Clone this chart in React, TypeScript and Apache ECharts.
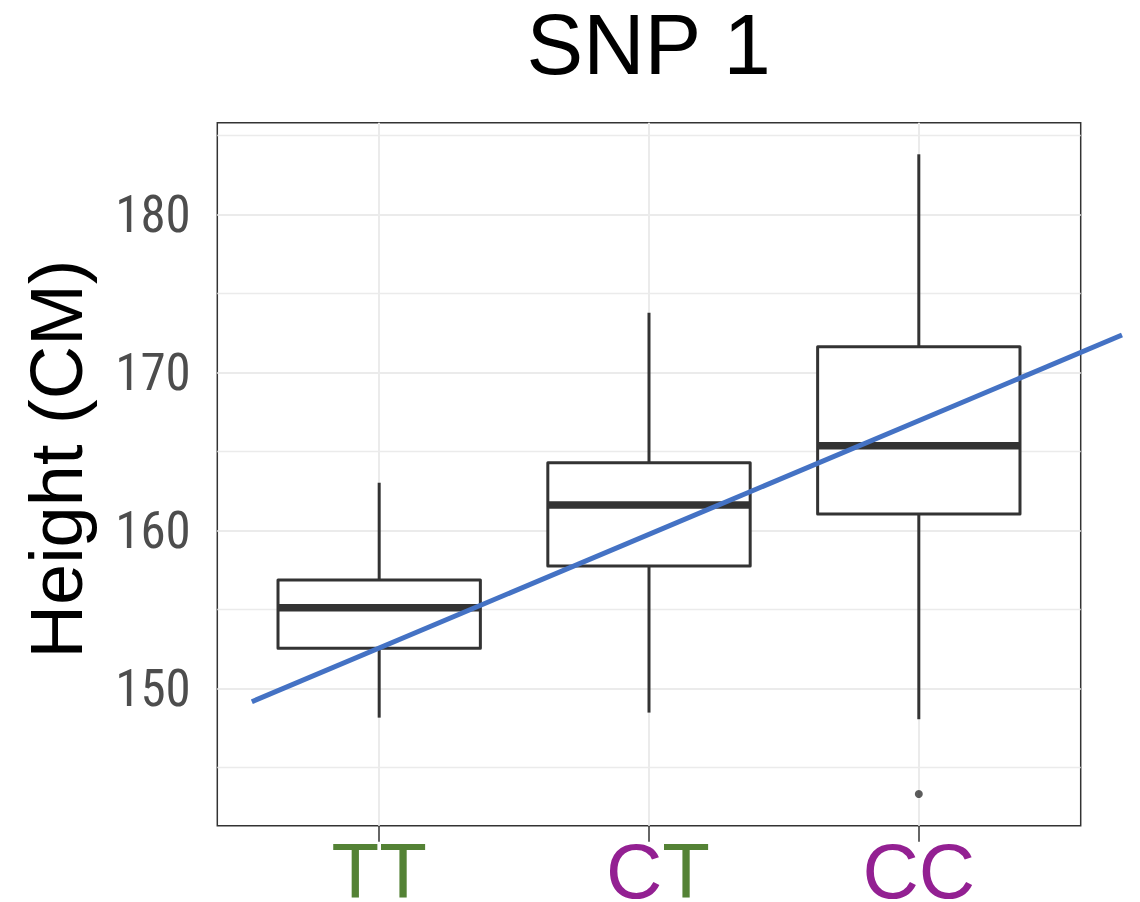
import React, { useEffect, useRef } from "react";
import * as echarts from "echarts";

const categories = ["TT", "CT", "CC"];
const lowerWhisker = [148.14, 148.46, 148.04];
const q1 = [152.53, 157.74, 161.03];
const median = [155.1, 161.6, 165.35];
const q3 = [156.85, 164.28, 171.62];
const upperWhisker = [163.01, 173.77, 183.8];
const outliers = [[2, 143.31]];
const trendX = [-0.472, 2.753];
const trendY = [149.15, 172.36];
const yTickLabels = [150, 160, 170, 180];
const majorGridY = [150, 160, 170, 180];
const minorGridY = [145, 155, 165, 175, 185];

const GREEN = "#548235";
const PURPLE = "#932092";
const NARROW = "'Roboto Condensed', 'Liberation Sans Narrow', 'Liberation Sans', sans-serif";
const SANS = "'Liberation Sans', Arial, Helvetica, sans-serif";

export default function App() {
  const ref = useRef<HTMLDivElement>(null);
  useEffect(() => {
    document.body.style.margin = "0";
    const chart = echarts.init(ref.current!, undefined, { renderer: "svg" });
    const boxData = categories.map((_, i) => [i, lowerWhisker[i], q1[i], median[i], q3[i], upperWhisker[i]]);
    const labelRich: Record<string, string> = {
      TT: "{g|TT}",
      CT: "{pc|C}{g|T}",
      CC: "{p|CC}",
    };
    const option: any = {
      animation: false,
      backgroundColor: "#ffffff",
      grid: {
        left: 217.3,
        right: 59.3,
        top: 122.7,
        bottom: 76.3,
        outerBoundsMode: "none",
        containLabel: false,
        show: true,
        borderColor: "#333333",
        borderWidth: 1.5,
        backgroundColor: "#ffffff",
      },
      xAxis: {
        type: "value",
        min: -0.6,
        max: 2.6,
        axisLine: { show: false },
        splitLine: { show: false },
        axisTick: {
          show: true,
          length: 16,
          customValues: [0, 1, 2],
          lineStyle: { color: "#333333", width: 1.5 },
        },
        axisLabel: {
          customValues: [0, 1, 2],
          margin: 15,
          formatter: (v: number) => labelRich[categories[Math.round(v)]] || "",
          rich: {
            g: { color: GREEN, fontSize: 78, lineHeight: 60, fontFamily: SANS },
            p: { color: PURPLE, fontSize: 78, lineHeight: 60, fontFamily: SANS },
            pc: { color: PURPLE, fontSize: 78, lineHeight: 60, fontFamily: SANS, padding: [0, 0, 0, 18] },
          },
        },
      },
      yAxis: {
        type: "value",
        min: 141.3,
        max: 185.8,
        axisLine: { show: false },
        splitLine: { show: false },
        axisTick: {
          show: true,
          length: 14,
          customValues: yTickLabels,
          lineStyle: { color: "#333333", width: 1.5 },
        },
        axisLabel: {
          customValues: yTickLabels,
          margin: 26.5,
          color: "#4d4d4d",
          fontSize: 51,
          fontFamily: NARROW,
        },
      },
      graphic: [
        {
          type: "text",
          x: 648.6,
          y: 44.5,
          style: {
            text: "SNP 1",
            fill: "#000000",
            fontSize: 85,
            fontFamily: SANS,
            textAlign: "center",
            textVerticalAlign: "middle",
          },
        },
        {
          type: "text",
          x: 56.4,
          y: 459,
          rotation: Math.PI / 2,
          style: {
            text: "Height (CM)",
            fill: "#000000",
            fontSize: 74,
            fontFamily: SANS,
            textAlign: "center",
            textVerticalAlign: "middle",
          },
        },
      ],
      series: [
        {
          type: "line",
          data: [],
          z: 1,
          silent: true,
          markLine: {
            silent: true,
            z: 1,
            symbol: ["none", "none"],
            label: { show: false },
            animation: false,
            data: [
              ...minorGridY.map((v) => ({ yAxis: v, lineStyle: { color: "#ebebeb", width: 1.3, type: "solid" } })),
              ...majorGridY.map((v) => ({ yAxis: v, lineStyle: { color: "#ebebeb", width: 2, type: "solid" } })),
              ...categories.map((_, i) => ({ xAxis: i, lineStyle: { color: "#ebebeb", width: 2, type: "solid" } })),
            ],
          },
        },
        {
          type: "custom",
          z: 3,
          data: boxData,
          encode: { x: 0, y: [1, 2, 3, 4, 5] },
          renderItem: (params: any, api: any) => {
            const x = api.value(0);
            const lo = api.coord([x, api.value(1)]);
            const b1 = api.coord([x, api.value(2)]);
            const md = api.coord([x, api.value(3)]);
            const b3 = api.coord([x, api.value(4)]);
            const hi = api.coord([x, api.value(5)]);
            const half = api.size([0.375, 0])[0];
            const stroke = "#333333";
            return {
              type: "group",
              children: [
                { type: "line", shape: { x1: hi[0], y1: hi[1], x2: b3[0], y2: b3[1] }, style: { stroke, lineWidth: 3 } },
                { type: "line", shape: { x1: lo[0], y1: lo[1], x2: b1[0], y2: b1[1] }, style: { stroke, lineWidth: 3 } },
                {
                  type: "rect",
                  shape: { x: b3[0] - half, y: b3[1], width: 2 * half, height: b1[1] - b3[1] },
                  style: { fill: "#ffffff", stroke, lineWidth: 3, lineJoin: "round" },
                },
                {
                  type: "line",
                  shape: { x1: md[0] - half, y1: md[1], x2: md[0] + half, y2: md[1] },
                  style: { stroke, lineWidth: 7.5 },
                },
              ],
            };
          },
        },
        {
          type: "scatter",
          z: 4,
          data: outliers,
          symbolSize: 8,
          itemStyle: { color: "#333333" },
        },
        {
          type: "custom",
          z: 6,
          clip: false,
          data: [[trendX[0], trendY[0], trendX[1], trendY[1]]],
          encode: { x: [0, 2], y: [1, 3] },
          renderItem: (params: any, api: any) => {
            const p1 = api.coord([api.value(0), api.value(1)]);
            const p2 = api.coord([api.value(2), api.value(3)]);
            return {
              type: "line",
              shape: { x1: p1[0], y1: p1[1], x2: p2[0], y2: p2[1] },
              style: { stroke: "#4472C4", lineWidth: 5 },
            };
          },
        },
      ],
    };
    chart.setOption(option);
    return () => chart.dispose();
  }, []);
  return <div ref={ref} style={{ width: 1140, height: 902 }} />;
}
